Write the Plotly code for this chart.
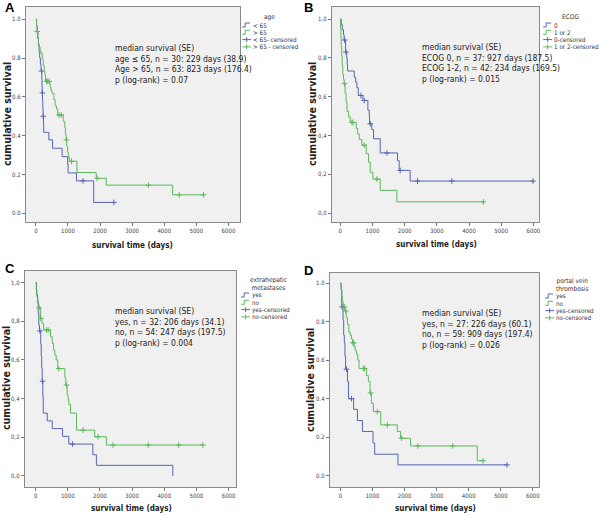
import plotly.graph_objects as go

# ---------------- data ----------------
# Panel A: age
a_lo_t = [0, 20, 40, 60, 80, 100, 120, 140, 160, 185, 190, 195, 205, 215, 225, 235, 245, 404, 518, 817, 990, 1003, 1264, 1801]
a_lo_s = [1.0, 0.967, 0.933, 0.90, 0.867, 0.833, 0.80, 0.767, 0.733, 0.69, 0.655, 0.62, 0.58, 0.54, 0.50, 0.458, 0.417, 0.378, 0.335, 0.292, 0.252, 0.208, 0.167, 0.056]
a_lo_c = [175, 200, 228, 1468, 2430]
a_hi_t = [0, 20, 40, 60, 80, 100, 130, 155, 200, 230, 260, 280, 300, 430, 450, 470, 500, 560, 600, 640, 680, 850, 900, 920, 940, 960, 990, 1010, 1040, 1280, 1880, 2190, 4260]
a_hi_s = [1.0, 0.968, 0.937, 0.905, 0.873, 0.857, 0.841, 0.825, 0.794, 0.762, 0.73, 0.714, 0.68, 0.666, 0.65, 0.634, 0.618, 0.586, 0.554, 0.538, 0.506, 0.474, 0.442, 0.41, 0.378, 0.346, 0.314, 0.29, 0.268, 0.21, 0.18, 0.145, 0.095]
a_hi_c = [40, 330, 370, 413, 720, 790, 952, 1110, 1910, 3505, 4467, 5222]

# Panel B: ECOG
b_0_t = [0, 30, 60, 100, 120, 165, 200, 215, 228, 434, 480, 517, 560, 703, 858, 900, 910, 980, 1034, 1241, 1779, 1830, 2171]
b_0_s = [1.0, 0.973, 0.946, 0.919, 0.892, 0.83, 0.80, 0.766, 0.732, 0.70, 0.675, 0.646, 0.606, 0.58, 0.53, 0.50, 0.46, 0.43, 0.383, 0.31, 0.27, 0.22, 0.165]
b_0_c = [134, 176, 641, 745, 930, 1448, 1861, 2400, 3465, 5990]
b_12_t = [0, 10, 20, 30, 45, 60, 80, 100, 120, 150, 180, 210, 259, 310, 496, 540, 590, 672, 807, 879, 930, 1013, 1241, 1758]
b_12_s = [1.0, 0.952, 0.905, 0.857, 0.81, 0.762, 0.714, 0.69, 0.667, 0.619, 0.571, 0.524, 0.495, 0.467, 0.437, 0.408, 0.379, 0.35, 0.306, 0.262, 0.21, 0.175, 0.117, 0.058]
b_12_c = [134, 362, 393, 745, 1138, 4447]

# Panel C: extrahepatic metastases
c_yes_t = [0, 30, 60, 80, 100, 120, 160, 175, 190, 205, 225, 238, 362, 517, 837, 1033, 1780, 1890, 4266]
c_yes_s = [1.0, 0.938, 0.906, 0.844, 0.781, 0.75, 0.68, 0.62, 0.56, 0.49, 0.41, 0.325, 0.285, 0.245, 0.205, 0.165, 0.11, 0.055, 0.0]
c_yes_c = [134, 217, 1147]
c_no_t = [0, 20, 40, 70, 100, 150, 200, 250, 465, 517, 560, 600, 640, 690, 909, 940, 980, 1010, 1033, 1085, 1271, 1839, 2200]
c_no_s = [1.0, 0.963, 0.926, 0.89, 0.87, 0.815, 0.79, 0.755, 0.72, 0.685, 0.65, 0.625, 0.60, 0.555, 0.51, 0.47, 0.42, 0.395, 0.37, 0.325, 0.237, 0.203, 0.16]
c_no_c = [110, 160, 341, 392, 720, 961, 1477, 1942, 2407, 3500, 4450, 5200]

# Panel D: portal vein thrombosis
d_yes_t = [0, 20, 40, 80, 100, 120, 140, 160, 218, 249, 410, 528, 684, 1015, 1067, 1793]
d_yes_s = [1.0, 0.963, 0.876, 0.81, 0.73, 0.69, 0.62, 0.553, 0.49, 0.40, 0.345, 0.287, 0.23, 0.17, 0.112, 0.057]
d_yes_c = [52, 187, 342, 5192]
d_no_t = [0, 20, 40, 60, 100, 140, 180, 218, 260, 300, 342, 380, 420, 460, 500, 540, 580, 808, 870, 922, 964, 1026, 1254, 1772, 1876, 2187, 4266]
d_no_s = [1.0, 0.966, 0.932, 0.898, 0.876, 0.855, 0.82, 0.785, 0.747, 0.73, 0.71, 0.69, 0.67, 0.65, 0.63, 0.60, 0.557, 0.52, 0.49, 0.43, 0.376, 0.333, 0.264, 0.23, 0.195, 0.155, 0.078]
d_no_c = [130, 166, 390, 410, 715, 756, 935, 1150, 1461, 1907, 2414, 3500, 4447]

x_tickvals = [0, 1000, 2000, 3000, 4000, 5000, 6000]
y_tickvals = [0.0, 0.2, 0.4, 0.6, 0.8, 1.0]
y_ticktext_dot = ["0.0", "0.2", "0.4", "0.6", "0.8", "1.0"]
y_ticktext_comma = ["0,0", "0,2", "0,4", "0,6", "0,8", "1,0"]

panel_titles = ["A", "B", "C", "D"]
legend_titles = ["age", "ECOG", "extrahepatic<br>metastases", "portal vein<br>thrombosis"]
legend_labels = [
    ["< 65", "> 65", "< 65- censored", "> 65 - censored"],
    ["0", "1 or 2", "0-censored", "1 or 2-censored"],
    ["yes", "no", "yes-censored", "no-censored"],
    ["yes", "no", "yes-censored", "no-censored"],
]
stats_text = [
    ["median survival (SE)", "age ≤ 65, n = 30: 229 days (38.9)", "Age > 65, n = 63: 823 days (176.4)", "p (log-rank) = 0.07"],
    ["median survival (SE)", "ECOG 0, n = 37: 927 days (187.5)", "ECOG 1-2, n = 42: 234 days (169.5)", "p (log-rank) = 0.015"],
    ["median survival (SE)", "yes, n = 32: 206 days (34.1)", "no, n = 54: 247 days (197.5)", "p (log-rank) = 0.004"],
    ["median survival (SE)", "yes, n = 27: 226 days (60.1)", "no, n = 59: 909 days (197.4)", "p (log-rank) = 0.026"],
]

# ---------------- styling ----------------
W, H = 600, 513
BLUE = "#5565b0"
GREEN = "#5cb85a"
NARROW = "Liberation Sans Narrow, DejaVu Sans Condensed, Lato, sans-serif"


def px(x):
    return x / W


def py(y):
    return 1 - y / H


def step_at(ts, ss, tc):
    v = ss[0]
    for t, s in zip(ts, ss):
        if t <= tc:
            v = s
    return v


panels = [
    dict(series=[(a_lo_t, a_lo_s, a_lo_c), (a_hi_t, a_hi_s, a_hi_c)],
         box=(26, 241, 7, 222), xr=[-311, 6366], yr=[-0.045, 1.063], yt=y_ticktext_dot,
         letter=(3, 7.5), stats=(113, 48), leg=(243, 15), xtitle=(133, 245), ytitle=(7, 114)),
    dict(series=[(b_0_t, b_0_s, b_0_c), (b_12_t, b_12_s, b_12_c)],
         box=(333, 541, 7, 222), xr=[-260, 6180], yr=[-0.046, 1.062], yt=y_ticktext_comma,
         letter=(303, 7.5), stats=(421, 47), leg=(545, 15), xtitle=(438, 244), ytitle=(313, 114)),
    dict(series=[(c_yes_t, c_yes_s, c_yes_c), (c_no_t, c_no_s, c_no_c)],
         box=(25, 237, 271, 487), xr=[-332, 6237], yr=[-0.057, 1.06], yt=y_ticktext_comma,
         letter=(3, 268), stats=(113, 311), leg=(242, 278), xtitle=(132, 508), ytitle=(6, 378)),
    dict(series=[(d_yes_t, d_yes_s, d_yes_c), (d_no_t, d_no_s, d_no_c)],
         box=(331, 541, 273, 487), xr=[-330, 6198], yr=[-0.058, 1.052], yt=y_ticktext_dot,
         letter=(303, 270), stats=(421, 313), leg=(547, 279), xtitle=(437, 508), ytitle=(311, 380)),
]

fig = go.Figure()
annotations = []
shapes = []
layout_axes = {}

for i, p in enumerate(panels):
    n = "" if i == 0 else str(i + 1)
    xa, ya = "x" + n, "y" + n
    x0, x1, y0, y1 = p["box"]
    layout_axes["xaxis" + n] = dict(
        domain=[px(x0), px(x1)], range=p["xr"], anchor=ya,
        tickvals=x_tickvals, ticks="outside", ticklen=3, tickcolor="#777",
        tickfont=dict(size=6, color="#444", family=NARROW),
        showgrid=False, zeroline=False, showline=True, mirror=True,
        linecolor="#8a8a8a", linewidth=1, fixedrange=True)
    layout_axes["yaxis" + n] = dict(
        domain=[py(y1), py(y0)], range=p["yr"], anchor=xa,
        tickvals=y_tickvals, ticktext=p["yt"], ticks="outside", ticklen=3, tickcolor="#777",
        tickfont=dict(size=6, color="#444", family=NARROW),
        showgrid=False, zeroline=False, showline=True, mirror=True,
        linecolor="#8a8a8a", linewidth=1, fixedrange=True)

    for (ts, ss, cs), col in zip(p["series"], [BLUE, GREEN]):
        end_t = max(cs[-1], ts[-1])
        line_x = list(ts) + [end_t]
        line_y = list(ss) + [ss[-1]]
        fig.add_trace(go.Scatter(x=line_x, y=line_y, mode="lines", line=dict(color=col, width=1, shape="hv"),
                                 xaxis=xa, yaxis=ya, showlegend=False, hoverinfo="skip"))
        fig.add_trace(go.Scatter(x=cs, y=[step_at(ts, ss, c) for c in cs], mode="markers",
                                 marker=dict(symbol="cross-thin", size=4, line=dict(color=col, width=1)),
                                 xaxis=xa, yaxis=ya, showlegend=False, hoverinfo="skip"))

    # panel letter
    lx, ly = p["letter"]
    annotations.append(dict(x=px(lx), y=py(ly), xref="paper", yref="paper", xanchor="left", yanchor="middle",
                            text="<b>%s</b>" % panel_titles[i], showarrow=False,
                            font=dict(size=13, color="#000", family="Liberation Sans, Arial, sans-serif")))
    # stats text
    sx, sy = p["stats"]
    for k, line in enumerate(stats_text[i]):
        annotations.append(dict(x=px(sx), y=py(sy + k * 10.7), xref="paper", yref="paper",
                                xanchor="left", yanchor="middle", text=line, showarrow=False,
                                font=dict(size=8.5, color="#222", family=NARROW)))
    # axis titles
    tx, ty = p["xtitle"]
    annotations.append(dict(x=px(tx), y=py(ty), xref="paper", yref="paper", xanchor="center", yanchor="middle",
                            text="<b>survival time (days)</b>", showarrow=False,
                            font=dict(size=8, color="#222", family=NARROW)))
    vx, vy = p["ytitle"]
    annotations.append(dict(x=px(vx), y=py(vy), xref="paper", yref="paper", xanchor="center", yanchor="middle",
                            text="<b>cumulative survival</b>", showarrow=False, textangle=-90,
                            font=dict(size=10.5, color="#222", family=NARROW)))

    # legend
    gx, gy = p["leg"]
    two_line = "<br>" in legend_titles[i]
    annotations.append(dict(x=px(gx + 27), y=py(gy - 4), xref="paper", yref="paper", xanchor="center",
                            yanchor="top", text=legend_titles[i], showarrow=False,
                            font=dict(size=6.5, color="#333", family=NARROW)))
    item_y0 = gy + (17 if two_line else 10)
    item_gap = 7.3
    for k in range(4):
        iy = item_y0 + k * item_gap
        col = BLUE if k % 2 == 0 else GREEN
        if k < 2:
            shapes.append(dict(type="path", xref="paper", yref="paper",
                               path="M %f %f L %f %f L %f %f L %f %f" % (
                                   px(gx), py(iy + 2), px(gx + 3), py(iy + 2), px(gx + 3), py(iy - 2), px(gx + 8), py(iy - 2)),
                               line=dict(color=col, width=1)))
        else:
            shapes.append(dict(type="line", xref="paper", yref="paper", x0=px(gx), x1=px(gx + 9),
                               y0=py(iy), y1=py(iy), line=dict(color=col, width=1)))
            shapes.append(dict(type="line", xref="paper", yref="paper", x0=px(gx + 4.5), x1=px(gx + 4.5),
                               y0=py(iy - 2.5), y1=py(iy + 2.5), line=dict(color=col, width=1)))
        annotations.append(dict(x=px(gx + 9), y=py(iy), xref="paper", yref="paper", xanchor="left",
                                yanchor="middle", text=legend_labels[i][k], showarrow=False,
                                font=dict(size=6.3, color="#333", family=NARROW)))

fig.update_layout(
    width=W, height=H, autosize=False,
    margin=dict(l=0, r=0, t=0, b=0),
    paper_bgcolor="white", plot_bgcolor="#f0f0f0",
    showlegend=False, annotations=annotations, shapes=shapes,
    **layout_axes,
)

fig.write_html("out.html", config={"displayModeBar": False},
               post_script="document.body.style.margin='0px';document.body.style.padding='0px';")
